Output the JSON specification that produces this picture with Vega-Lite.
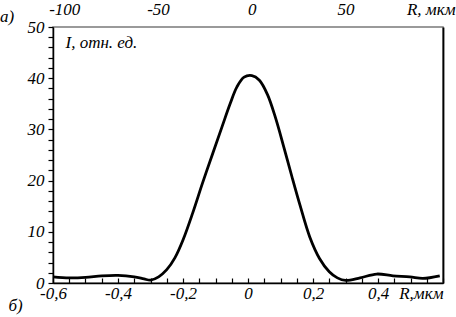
{
  "$schema": "https://vega.github.io/schema/vega-lite/v6.json",
  "autosize": "none",
  "width": 390,
  "height": 256,
  "padding": {"left": 53, "top": 27, "right": 13, "bottom": 34},
  "background": "white",
  "config": {
    "view": {"stroke": "#7a7a7a", "strokeWidth": 1.5},
    "axis": {"labelFontSize": 17, "labelColor": "#000", "titleFontWeight": "normal", "titleFontSize": 17, "titleColor": "#000", "grid": false, "domainColor": "#000", "tickColor": "#000", "domainWidth": 1.5, "tickWidth": 1.2}
  },
  "title": {"text": "а)", "font": "Liberation Serif", "fontStyle": "italic", "fontWeight": "normal", "fontSize": 17, "color": "#000", "anchor": "start", "frame": "group", "orient": "top", "dx": -53, "dy": 30},
  "data": {"values": [
    {"R": -0.6, "I": 1.2},
    {"R": -0.55, "I": 1.0},
    {"R": -0.5, "I": 1.1},
    {"R": -0.45, "I": 1.4},
    {"R": -0.4, "I": 1.5},
    {"R": -0.35, "I": 1.2},
    {"R": -0.32, "I": 0.8},
    {"R": -0.3, "I": 0.55},
    {"R": -0.275, "I": 1.2},
    {"R": -0.25, "I": 2.6},
    {"R": -0.225, "I": 4.9},
    {"R": -0.2, "I": 8.4},
    {"R": -0.17, "I": 13.7},
    {"R": -0.14, "I": 19.5},
    {"R": -0.108, "I": 25.4},
    {"R": -0.08, "I": 30.5},
    {"R": -0.055, "I": 35.0},
    {"R": -0.034, "I": 38.3},
    {"R": -0.012, "I": 40.2},
    {"R": 0.012, "I": 40.5},
    {"R": 0.035, "I": 39.6},
    {"R": 0.06, "I": 36.8},
    {"R": 0.085, "I": 32.2},
    {"R": 0.11, "I": 26.6},
    {"R": 0.135, "I": 20.8},
    {"R": 0.16, "I": 15.2},
    {"R": 0.19, "I": 9.0},
    {"R": 0.22, "I": 4.8},
    {"R": 0.25, "I": 2.2},
    {"R": 0.275, "I": 1.0},
    {"R": 0.3, "I": 0.5},
    {"R": 0.345, "I": 1.0},
    {"R": 0.396, "I": 1.75},
    {"R": 0.446, "I": 1.4},
    {"R": 0.498, "I": 1.2},
    {"R": 0.538, "I": 0.9},
    {"R": 0.59, "I": 1.4}
  ]},
  "layer": [
    {
      "mark": {"type": "line", "color": "#000", "strokeWidth": 2.8, "interpolate": "catmull-rom"},
      "encoding": {
        "x": {"field": "R", "type": "quantitative", "scale": {"domain": [-0.6, 0.6], "nice": false, "zero": false},
          "axis": {"orient": "bottom", "labelFont": "Liberation Serif", "labelFontStyle": "italic",
            "values": [-0.6, -0.55, -0.5, -0.45, -0.4, -0.35, -0.3, -0.25, -0.2, -0.15, -0.1, -0.05, 0, 0.05, 0.1, 0.15, 0.2, 0.25, 0.3, 0.35, 0.4, 0.45, 0.5, 0.55, 0.6],
            "labelExpr": "(round(abs(datum.value) * 20) % 4 == 0 && datum.value < 0.5) ? replace('' + datum.value, '.', ',') : ''",
            "tickSize": -5, "labelPadding": 7, "labelFlush": false, "labelOverlap": false,
            "title": "R,мкм", "titleFont": "Liberation Serif", "titleFontStyle": "italic", "titleAlign": "right", "titleAnchor": null, "titleX": 390, "titleY": 10, "titleBaseline": "middle"}},
        "y": {"field": "I", "type": "quantitative", "scale": {"domain": [0, 50], "nice": false},
          "axis": {"orient": "left", "labelFont": "Liberation Serif", "labelFontStyle": "italic",
            "values": [0, 2, 4, 6, 8, 10, 12, 14, 16, 18, 20, 22, 24, 26, 28, 30, 32, 34, 36, 38, 40, 42, 44, 46, 48, 50],
            "labelExpr": "datum.value % 10 == 0 ? '' + datum.value : ''",
            "tickSize": 5, "labelPadding": 4, "labelFlush": false, "labelOverlap": false,
            "title": "I, отн. ед.", "titleFont": "Liberation Serif", "titleFontStyle": "italic", "titleAngle": 0, "titleAlign": "left", "titleBaseline": "middle", "titleX": 12, "titleY": 15}}
      }
    },
    {
      "mark": {"type": "point", "opacity": 0},
      "encoding": {
        "x": {"field": "R", "type": "quantitative", "scale": {"domain": [-106, 102], "nice": false, "zero": false},
          "axis": {"orient": "top", "labelFont": "Liberation Serif", "labelFontStyle": "italic", "values": [-100, -50, 0, 50], "labelExpr": "'' + datum.value", "domain": false, "ticks": false, "labelPadding": 9, "labelFlush": false,
            "title": "R, мкм", "titleFont": "Liberation Serif", "titleFontStyle": "italic", "titleAlign": "right", "titleAnchor": null, "titleX": 402, "titleY": -18, "titleBaseline": "middle"}},
        "y": {"field": "I", "type": "quantitative",
          "axis": {"orient": "right", "labels": false, "ticks": false, "domain": true, "domainWidth": 1.8,
            "title": "б)", "titleFont": "Liberation Serif", "titleFontStyle": "italic", "titleAngle": 0, "titleAlign": "center", "titleBaseline": "middle", "titleX": -428, "titleY": 278}}
      }
    }
  ],
  "resolve": {"scale": {"x": "independent"}, "axis": {"x": "independent", "y": "independent"}}
}
